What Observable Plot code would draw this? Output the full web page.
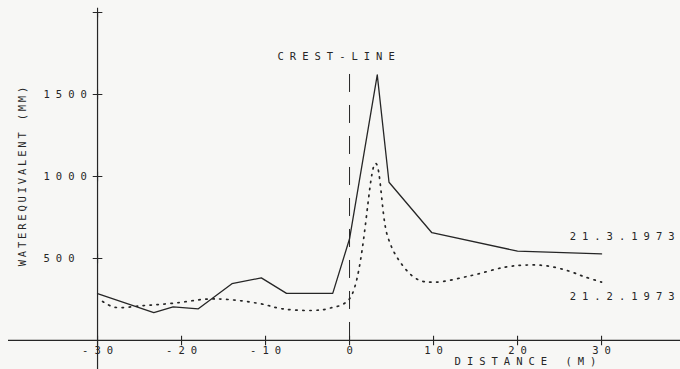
<!DOCTYPE html>
<html>
<head>
<meta charset="utf-8">
<script src="https://cdn.jsdelivr.net/npm/d3@7"></script>
<script src="https://cdn.jsdelivr.net/npm/@observablehq/plot@0.6"></script>
<style>
  html, body { margin: 0; padding: 0; background: #f7f7f5; }
  svg { display: block; }
</style>
</head>
<body>
<div id="chart"></div>
<script>
// Snow water equivalent profiles across the crest line
const dist_mar = [-30, -23.3, -21, -18, -14, -10.5, -7.5, -2, 0, 3.3, 4.7, 9.8, 20, 30];
const we_mar   = [285, 170, 205, 193, 346, 382, 287, 287, 620, 1620, 965, 657, 545, 528];

const dist_feb = [-29.4, -28, -24.5, -21, -17, -14.5, -10.6, -8, -4.5, -2.5, 0, 3.1, 4.5, 6, 8, 10, 14.5, 18.5, 21, 23.5, 26, 28, 30];
const we_feb   = [238, 203, 213, 227, 252, 250, 224, 193, 183, 195, 254, 1080, 640, 480, 375, 355, 396, 447, 460, 455, 425, 388, 356];

const xTicks = [-30, -20, -10, 0, 10, 20, 30];
const yTicks = [500, 1000, 1500];
const yTickMarks = [500, 1000, 1500, 2000];

const seriesLabels = ["21.3.1973", "21.2.1973"];
const crestLabel = "CREST-LINE";
const xLabel = "DISTANCE (M)";
const yLabel = "WATEREQUIVALENT (MM)";

const mar = dist_mar.map((d, i) => ({x: d, y: we_mar[i]}));
const feb = dist_feb.map((d, i) => ({x: d, y: we_feb[i]}));

const ink = "#262626";
const font = "DejaVu Sans Mono";
const ls = 6.0;      // letter spacing of the plotter-style lettering
const lsY = 2.8;     // tighter spacing on the vertical title

const chart = Plot.plot({
  width: 680,
  height: 369,
  marginTop: 12,
  marginRight: 0,
  marginBottom: 0,
  marginLeft: 8,
  style: {background: "#f7f7f5", fontFamily: font, fontSize: "10.5px", letterSpacing: ls + "px", color: ink},
  x: {domain: [-40.6, 39.4], axis: null},
  y: {domain: [-177, 2000], axis: null},
  marks: [
    // axes
    Plot.ruleY([0], {stroke: ink, strokeWidth: 1.2}),
    Plot.ruleX([-30], {stroke: ink, strokeWidth: 1.2}),
    Plot.dot(xTicks, {x: d => d, y: 0, symbol: "plus", r: 3.2, stroke: ink, strokeWidth: 1.1}),
    Plot.dot(yTickMarks, {x: -30, y: d => d, symbol: "plus", r: 3.2, stroke: ink, strokeWidth: 1.1}),
    Plot.text(xTicks, {x: d => d, y: 0, text: d => (d < 0 ? "-" + Math.abs(d) : String(d)), dy: 10.5, dx: ls / 2, fill: ink}),
    Plot.text(yTicks, {x: -30, y: d => d, text: d => String(d), textAnchor: "start", dx: -54, fill: ink}),
    Plot.text([xLabel], {frameAnchor: "bottom", text: d => d, textAnchor: "middle", lineAnchor: "middle", dx: 181 + ls / 2, dy: -7.5, fill: ink}),
    Plot.text([yLabel], {frameAnchor: "left", text: d => d, textAnchor: "middle", rotate: -90, dx: 14, dy: -14.5 - lsY / 2, fill: ink}),
    // crest line
    Plot.ruleX([0], {y1: 0, y2: 1700, stroke: ink, strokeWidth: 1, strokeDasharray: "18,13"}),
    Plot.text([crestLabel], {x: 0, y: 1730, text: d => d, textAnchor: "start", dx: -72, fill: ink}),
    // series
    Plot.line(mar, {x: "x", y: "y", stroke: ink, strokeWidth: 1.3}),
    Plot.line(feb, {x: "x", y: "y", curve: "catmull-rom", stroke: ink, strokeWidth: 1.7, strokeDasharray: "1.4,5.6"}),
    // series labels, anchored to the last point of each series
    Plot.text([mar[mar.length - 1]], {x: "x", y: "y", text: () => seriesLabels[0], textAnchor: "end", dx: 73 + ls, dy: -17, fill: ink}),
    Plot.text([feb[feb.length - 1]], {x: "x", y: "y", text: () => seriesLabels[1], textAnchor: "end", dx: 73 + ls, dy: 15, fill: ink})
  ]
});
// tighter letter spacing for the vertical axis title
d3.select(chart).selectAll("text").filter(function () { return this.textContent === yLabel; })
  .style("letter-spacing", lsY + "px").style("font-size", "10.5px");
document.getElementById("chart").appendChild(chart);
</script>
</body>
</html>
